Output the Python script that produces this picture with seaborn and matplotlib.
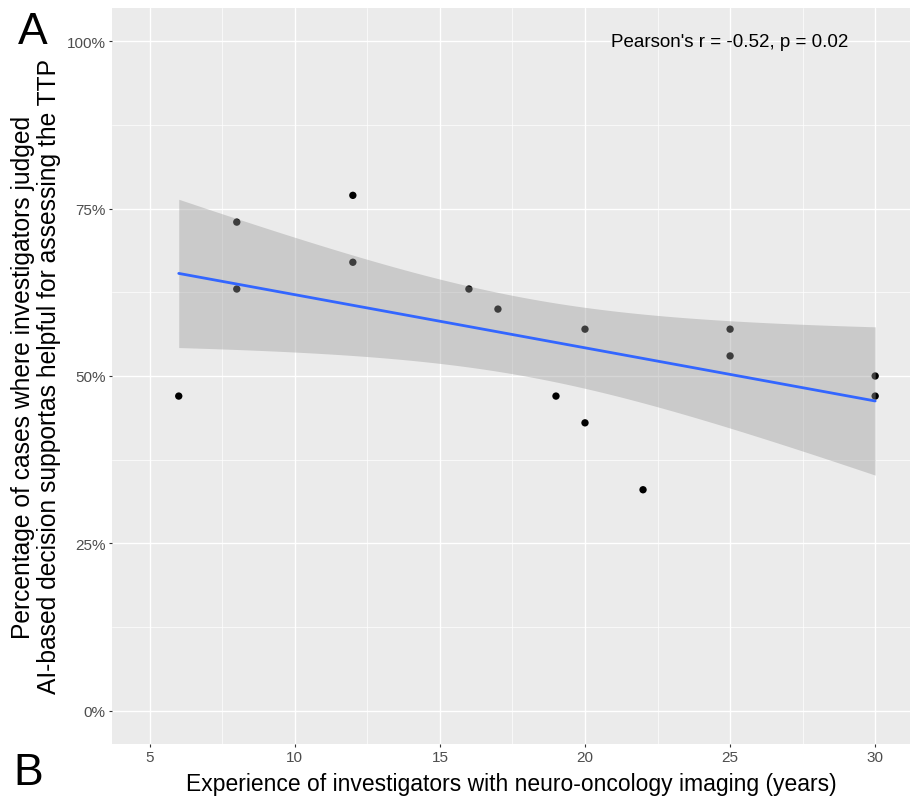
import numpy as np
import pandas as pd
import matplotlib
matplotlib.use("Agg")
import matplotlib.pyplot as plt
import seaborn as sns
from matplotlib.ticker import PercentFormatter, MultipleLocator

# data
experience = [6, 8, 8, 12, 12, 16, 17, 19, 20, 20, 22, 25, 25, 30, 30]
helpful = [0.47, 0.73, 0.63, 0.77, 0.67, 0.63, 0.60, 0.47, 0.57, 0.43, 0.33, 0.57, 0.53, 0.50, 0.47]
stat_text = "Pearson's r = -0.52, p = 0.02"
xlabel = "Experience of investigators with neuro-oncology imaging (years)"
ylabel = "Percentage of cases where investigators judged\nAI-based decision supportas helpful for assessing the TTP"

df = pd.DataFrame({"experience": experience, "helpful": helpful})

sns.set_style("darkgrid", {"axes.facecolor": "#EBEBEB", "grid.color": "white"})
plt.rcParams["font.family"] = ["Liberation Sans", "DejaVu Sans"]
plt.rcParams["text.color"] = "black"

fig = plt.figure(figsize=(9.12, 8.03), dpi=100)
ax = fig.add_axes([112 / 912, 1 - 745 / 803, 798 / 912, 736 / 803])

# points first, ribbon drawn over them like ggplot
sns.scatterplot(data=df, x="experience", y="helpful", color="black", s=28,
                edgecolor="none", ax=ax, zorder=2)

# linear fit with 95% confidence band (t, df = 13)
x = np.asarray(experience, float)
y = np.asarray(helpful, float)
n = len(x)
slope, intercept = np.polyfit(x, y, 1)
resid = y - (intercept + slope * x)
s = np.sqrt(np.sum(resid ** 2) / (n - 2))
sxx = np.sum((x - x.mean()) ** 2)
t_crit = 2.160
xs = np.linspace(x.min(), x.max(), 80)
fit = intercept + slope * xs
half = t_crit * s * np.sqrt(1 / n + (xs - x.mean()) ** 2 / sxx)
ax.fill_between(xs, fit - half, fit + half, color="#999999", alpha=0.4,
                linewidth=0, zorder=3)
sns.lineplot(x=xs, y=fit, color="#3366FF", linewidth=2.0, ax=ax, zorder=4)

ax.text(25, 1.0, stat_text, ha="center", va="center", fontsize=13.5, color="black")

ax.set_xlim(3.7, 31.2)
ax.set_ylim(-0.05, 1.05)
ax.xaxis.set_major_locator(MultipleLocator(5))
ax.xaxis.set_minor_locator(MultipleLocator(2.5))
ax.yaxis.set_major_locator(MultipleLocator(0.25))
ax.yaxis.set_minor_locator(MultipleLocator(0.125))
ax.yaxis.set_major_formatter(PercentFormatter(1.0, decimals=0))
ax.grid(which="major", color="white", linewidth=1.0)
ax.grid(which="minor", color="white", linewidth=0.5)
ax.set_axisbelow(True)
for sp in ax.spines.values():
    sp.set_visible(False)

ax.tick_params(which="major", length=2.5, width=0.8, color="#333333",
               labelsize=11, labelcolor="#4D4D4D", pad=2, bottom=True, left=True)
ax.tick_params(which="minor", length=0)

ax.set_xlabel(xlabel, fontsize=16.5, color="black")
ax.set_ylabel(ylabel, fontsize=17.7, color="black", linespacing=1.15)
ax.xaxis.set_label_coords(0.5, -0.054)
ax.xaxis.label.set_va("center")
ax.yaxis.set_label_coords(-0.0952, 0.5)
ax.yaxis.label.set_va("center")

# panel letters
fig.text(33 / 912, 1 - 33 / 803, "A", fontsize=32, ha="center", va="center",
         color="black")
fig.text(28 / 912, 1 - 774 / 803, "B", fontsize=32, ha="center", va="center",
         color="black")

fig.savefig("out.png", dpi=100, facecolor="white")
